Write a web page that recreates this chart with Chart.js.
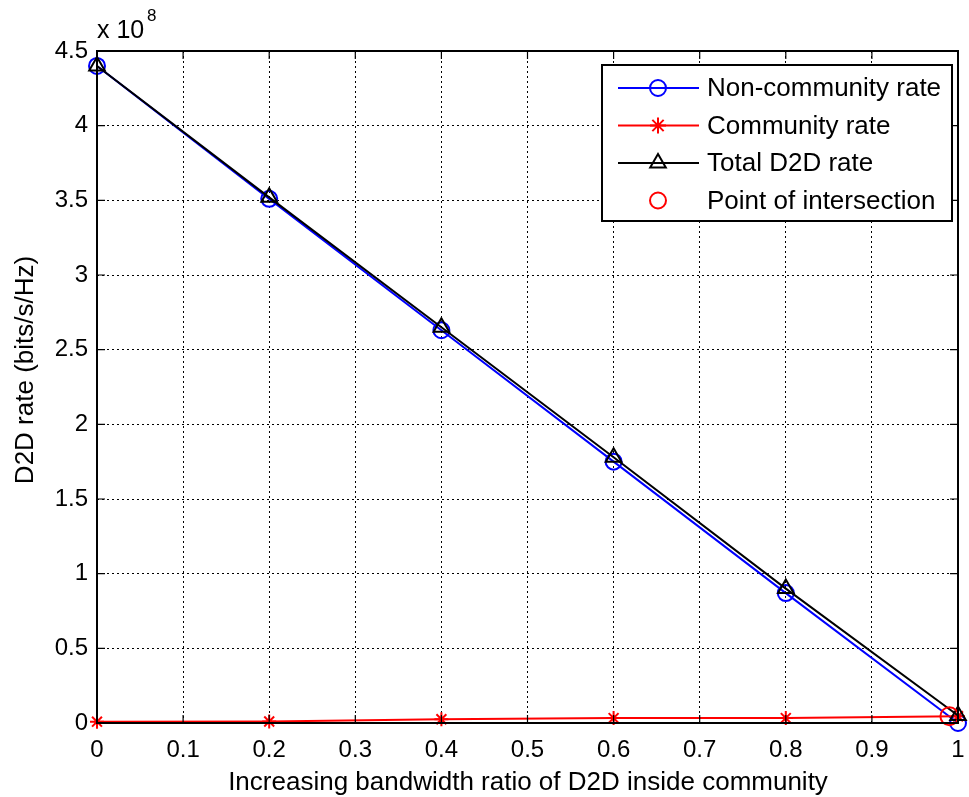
<!DOCTYPE html>
<html>
<head>
<meta charset="utf-8">
<script src="https://cdn.jsdelivr.net/npm/chart.js@4.4.0/dist/chart.umd.min.js"></script>
<style>
  html, body { margin: 0; padding: 0; background: #fff; }
  #wrap { width: 969px; height: 797px; position: relative; }
</style>
</head>
<body>
<div id="wrap"><canvas id="chart" width="969" height="797"></canvas></div>
<script>
// bandwidth ratio (x) and rates in units of 1e8 bits/s/Hz
const ratios = [0, 0.2, 0.4, 0.6, 0.8, 1.0];
const nonCommunityRate = [4.40, 3.51, 2.63, 1.75, 0.87, 0.0];
const communityRate = [0.009, 0.010, 0.025, 0.033, 0.033, 0.045];
const totalRate = [4.40, 3.52, 2.65, 1.78, 0.90, 0.05];
const intersection = [{ x: 0.99, y: 0.045 }];

const seriesLabels = ['Non-community rate', 'Community rate', 'Total D2D rate', 'Point of intersection'];
const xTicks = [0, 0.1, 0.2, 0.3, 0.4, 0.5, 0.6, 0.7, 0.8, 0.9, 1];
const yTicks = [0, 0.5, 1, 1.5, 2, 2.5, 3, 3.5, 4, 4.5];
const xTitle = 'Increasing bandwidth ratio of D2D inside community';
const yTitle = 'D2D rate (bits/s/Hz)';

const FONT = '"Liberation Sans", Arial, sans-serif';

function pts(ys) {
    return ratios.map((x, i) => ({ x: x, y: ys[i] }));
}

// frame, inner tick marks, axis titles, exponent label and legend box
const matlabFrame = {
    id: 'matlabFrame',
    afterDatasetsDraw(chart) {
        const { ctx, chartArea: a, scales } = chart;
        ctx.save();
        ctx.strokeStyle = '#000';
        ctx.lineWidth = 2;
        ctx.setLineDash([]);
        ctx.strokeRect(a.left, a.top, a.right - a.left, a.bottom - a.top);

        ctx.lineWidth = 1.2;
        xTicks.forEach(v => {
            const px = scales.x.getPixelForValue(v);
            ctx.beginPath();
            ctx.moveTo(px, a.bottom); ctx.lineTo(px, a.bottom - 8);
            ctx.moveTo(px, a.top); ctx.lineTo(px, a.top + 8);
            ctx.stroke();
        });
        yTicks.forEach(v => {
            const py = scales.y.getPixelForValue(v);
            ctx.beginPath();
            ctx.moveTo(a.left, py); ctx.lineTo(a.left + 8, py);
            ctx.moveTo(a.right, py); ctx.lineTo(a.right - 8, py);
            ctx.stroke();
        });

        ctx.fillStyle = '#000';
        // axis titles
        ctx.font = '26px ' + FONT;
        ctx.textAlign = 'center';
        ctx.textBaseline = 'alphabetic';
        ctx.fillText(xTitle, 528, 790);
        ctx.save();
        ctx.translate(33, 370);
        ctx.rotate(-Math.PI / 2);
        ctx.fillText(yTitle, 0, 0);
        ctx.restore();

        // exponent
        ctx.textAlign = 'left';
        ctx.font = '25px ' + FONT;
        ctx.fillText('x 10', 97, 38);
        ctx.font = '17px ' + FONT;
        ctx.fillText('8', 147, 21);

        // legend
        const lx = 602, ly = 65, lw = 350, lh = 156;
        ctx.fillStyle = '#fff';
        ctx.fillRect(lx, ly, lw, lh);
        ctx.strokeStyle = '#000';
        ctx.lineWidth = 2;
        ctx.strokeRect(lx, ly, lw, lh);

        const rows = [
            { color: '#0000ff', style: 'circle', r: 8, line: true },
            { color: '#ff0000', style: 'star', r: 8, line: true },
            { color: '#000000', style: 'triangle', r: 9, line: true },
            { color: '#ff0000', style: 'circle', r: 8, line: false }
        ];
        ctx.font = '26px ' + FONT;
        ctx.textBaseline = 'middle';
        rows.forEach((r, i) => {
            const y = 88 + i * 37.5;
            const cx = 658;
            ctx.strokeStyle = r.color;
            ctx.lineWidth = 2;
            if (r.line) {
                ctx.beginPath();
                ctx.moveTo(618, y); ctx.lineTo(699, y);
                ctx.stroke();
            }
            ctx.fillStyle = 'rgba(0,0,0,0)';
            Chart.helpers.drawPoint(ctx, {
                pointStyle: r.style,
                radius: r.r,
                borderWidth: 2
            }, cx, y);
            ctx.fillStyle = '#000';
            ctx.fillText(seriesLabels[i], 707, y + 1);
        });
        ctx.restore();
    }
};

const ctx = document.getElementById('chart').getContext('2d');
new Chart(ctx, {
    type: 'line',
    data: {
        datasets: [
            {
                label: seriesLabels[0],
                data: pts(nonCommunityRate),
                borderColor: '#0000ff',
                backgroundColor: 'rgba(0,0,0,0)',
                borderWidth: 2,
                pointStyle: 'circle',
                pointRadius: 8,
                pointBorderWidth: 2,
                pointBorderColor: '#0000ff',
                pointBackgroundColor: 'rgba(0,0,0,0)',
                order: 4
            },
            {
                label: seriesLabels[1],
                data: pts(communityRate),
                borderColor: '#ff0000',
                backgroundColor: 'rgba(0,0,0,0)',
                borderWidth: 2,
                pointStyle: 'star',
                pointRadius: 7,
                pointBorderWidth: 2,
                pointBorderColor: '#ff0000',
                order: 3
            },
            {
                label: seriesLabels[2],
                data: pts(totalRate),
                borderColor: '#000000',
                backgroundColor: 'rgba(0,0,0,0)',
                borderWidth: 2,
                pointStyle: 'triangle',
                pointRadius: 9,
                pointBorderWidth: 2,
                pointBorderColor: '#000000',
                pointBackgroundColor: 'rgba(0,0,0,0)',
                order: 2
            },
            {
                label: seriesLabels[3],
                data: intersection,
                showLine: false,
                borderColor: '#ff0000',
                pointStyle: 'circle',
                pointRadius: 9,
                pointBorderWidth: 2,
                pointBorderColor: '#ff0000',
                pointBackgroundColor: 'rgba(0,0,0,0)',
                order: 1
            }
        ]
    },
    options: {
        responsive: false,
        animation: false,
        clip: false,
        layout: { padding: { left: 0, right: 7, top: 51, bottom: 0 } },
        plugins: {
            legend: { display: false },
            tooltip: { enabled: false }
        },
        scales: {
            x: {
                type: 'linear',
                min: 0,
                max: 1,
                afterBuildTicks: s => { s.ticks = xTicks.map(v => ({ value: v })); },
                afterFit: s => { s.height = 74; s.paddingLeft = 0; s.paddingRight = 0; },
                ticks: {
                    color: '#000',
                    font: { family: FONT, size: 24 },
                    padding: 13,
                    maxRotation: 0,
                    autoSkip: false,
                    callback: v => String(v)
                },
                grid: { color: '#000', lineWidth: 1, drawTicks: false },
                border: { display: false, dash: [2, 3] }
            },
            y: {
                type: 'linear',
                min: 0,
                max: 4.5,
                afterBuildTicks: s => { s.ticks = yTicks.map(v => ({ value: v })); },
                afterFit: s => { s.width = 97; s.paddingTop = 0; s.paddingBottom = 0; },
                ticks: {
                    color: '#000',
                    font: { family: FONT, size: 24 },
                    padding: 9,
                    autoSkip: false,
                    callback: v => String(v)
                },
                grid: { color: '#000', lineWidth: 1, drawTicks: false },
                border: { display: false, dash: [2, 3] }
            }
        }
    },
    plugins: [matlabFrame]
});
</script>
</body>
</html>
